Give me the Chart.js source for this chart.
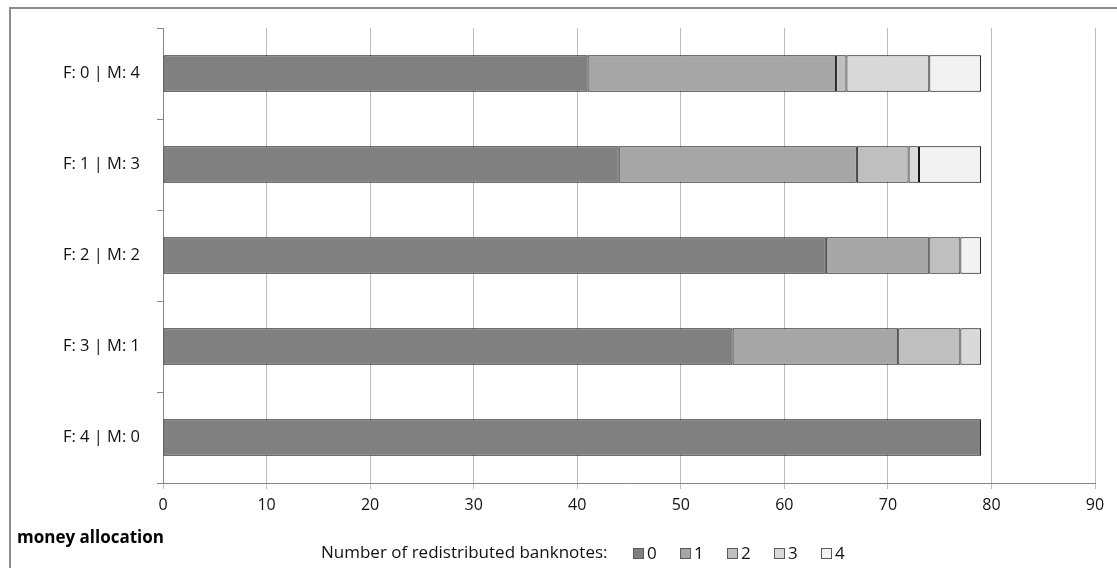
<!DOCTYPE html>
<html lang="en">
<head>
    <meta charset="UTF-8">
    <title>money allocation</title>
    <style>
        body {
            margin: 0;
            background: #fff;
            overflow: hidden;
        }
        #frame {
            position: absolute;
            left: 9px;
            top: 7px;
            width: 1200px;
            height: 700px;
            border-left: 2px solid #8c8c8c;
            border-top: 2px solid #8c8c8c;
        }
        #wrap {
            position: absolute;
            left: 0;
            top: 0;
            width: 1117px;
            height: 568px;
        }
    </style>
</head>
<body>
    <div id="frame"></div>
    <div id="wrap">
        <canvas id="myChart" width="1117" height="568"></canvas>
    </div>

    <script src="https://cdn.jsdelivr.net/npm/chart.js@4"></script>
    <script>
        // allocation groups, top to bottom
        var categories = ['F: 0 | M: 4', 'F: 1 | M: 3', 'F: 2 | M: 2', 'F: 3 | M: 1', 'F: 4 | M: 0'];
        // counts per number of redistributed banknotes
        var notes0 = [41, 44, 64, 55, 79];
        var notes1 = [24, 23, 10, 16, 0];
        var notes2 = [1, 5, 3, 6, 0];
        var notes3 = [8, 1, 0, 2, 0];
        var notes4 = [5, 6, 2, 0, 0];
        var seriesLabels = ['0', '1', '2', '3', '4'];
        var xTicks = [0, 10, 20, 30, 40, 50, 60, 70, 80, 90];

        var fills = ['#808080', '#a6a6a6', '#bfbfbf', '#d9d9d9', '#f2f2f2'];
        var font = '"Open Sans", Lato, sans-serif';

        var series = [notes0, notes1, notes2, notes3, notes4];
        var datasets = series.map(function(values, i) {
            return {
                label: seriesLabels[i],
                data: values,
                backgroundColor: fills[i],
                borderColor: '#000000',
                borderWidth: 1,
                borderSkipped: false,
                barPercentage: 0.4,
                categoryPercentage: 1.0
            };
        });

        // bottom caption and legend, as in the original sheet
        var bottomText = {
            id: 'bottomText',
            afterDraw: function(chart) {
                var ctx = chart.ctx;
                ctx.save();
                ctx.fillStyle = '#000';
                ctx.textBaseline = 'middle';
                ctx.textAlign = 'left';
                ctx.font = 'bold 17px ' + font;
                ctx.fillText('money allocation', 17, 538);

                ctx.font = '17px ' + font;
                ctx.fillStyle = '#111';
                ctx.fillText('Number of redistributed banknotes:', 321, 553);

                var x = 633;
                chart.data.datasets.forEach(function(ds) {
                    ctx.fillStyle = ds.backgroundColor;
                    ctx.fillRect(x, 548, 10, 10);
                    ctx.strokeStyle = '#5a5a5a';
                    ctx.lineWidth = 1;
                    ctx.strokeRect(x + 0.5, 548.5, 10, 10);
                    ctx.fillStyle = '#111';
                    ctx.fillText(ds.label, x + 14, 554);
                    x += 47;
                });
                ctx.restore();
            }
        };

        var ctx = document.getElementById('myChart').getContext('2d');
        var chart = new Chart(ctx, {
            type: 'bar',
            data: {
                labels: categories,
                datasets: datasets
            },
            options: {
                indexAxis: 'y',
                responsive: false,
                animation: false,
                layout: {
                    padding: { left: 0, top: 28, right: 22, bottom: 0 }
                },
                plugins: {
                    legend: { display: false },
                    tooltip: { enabled: false }
                },
                scales: {
                    x: {
                        stacked: true,
                        min: 0,
                        max: 90,
                        afterFit: function(scale) { scale.height = 85; },
                        afterBuildTicks: function(scale) {
                            scale.ticks = xTicks.map(function(v) { return { value: v }; });
                        },
                        grid: {
                            color: '#bdbdbd',
                            lineWidth: 1,
                            tickLength: 6
                        },
                        border: { color: '#868686', width: 1 },
                        ticks: {
                            padding: 7,
                            color: '#111',
                            font: { family: font, size: 16 }
                        }
                    },
                    y: {
                        stacked: true,
                        afterFit: function(scale) { scale.width = 163; },
                        grid: {
                            drawOnChartArea: false,
                            color: '#868686',
                            tickLength: 6,
                            offset: true
                        },
                        border: { color: '#868686', width: 1 },
                        ticks: {
                            padding: 17,
                            color: '#111',
                            font: { family: font, size: 16.5 }
                        }
                    }
                }
            },
            plugins: [bottomText]
        });
    </script>
</body>
</html>
